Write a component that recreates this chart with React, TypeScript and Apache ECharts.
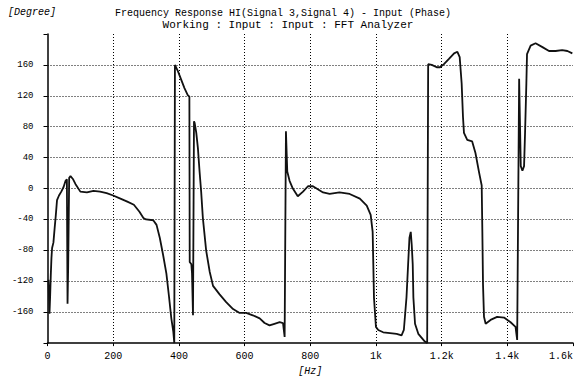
import React, { useEffect, useRef } from "react";
import * as echarts from "echarts";

const titleText = "Frequency Response HI(Signal 3,Signal 4) - Input (Phase)";
const subtitleText = "Working : Input : Input : FFT Analyzer";
const yUnit = "[Degree]";
const xUnit = "[Hz]";

const xTickValues = [0, 200, 400, 600, 800, 1000, 1200, 1400, 1600];
const xTickLabels = ["0", "200", "400", "600", "800", "1k", "1.2k", "1.4k", "1.6k"];

const freqHz = [
  3, 6, 8, 10, 12, 14, 18, 22, 25, 29, 35, 42, 49, 55, 59, 61, 63, 66, 70, 78,
  85, 100, 120, 140, 160, 180, 200, 222, 243, 263, 280, 292, 300, 322, 332, 342, 352, 362, 370, 377,
  383, 386, 388, 397, 407, 417, 427, 432, 433, 438, 440, 443, 446, 448, 453, 458, 463, 468, 473, 483,
  494, 504, 524, 544, 565, 585, 605, 625, 646, 661, 676, 691, 707, 717, 722, 726, 730, 737, 747, 762,
  778, 793, 808, 823, 839, 859, 889, 920, 951, 972, 984, 990, 992, 994, 1000, 1007, 1022, 1043, 1063, 1078,
  1085, 1093, 1098, 1102, 1106, 1109, 1112, 1114, 1119, 1129, 1149, 1156, 1159, 1170, 1185, 1195, 1207, 1223, 1238, 1248,
  1255, 1261, 1265, 1268, 1278, 1293, 1303, 1314, 1322, 1324, 1326, 1329, 1334, 1349, 1369, 1390, 1410, 1425, 1430, 1436,
  1441, 1446, 1451, 1454, 1458, 1460, 1471, 1486, 1507, 1527, 1547, 1567, 1583, 1598,
];

const phaseDeg = [
  -118, -162, -140, -112, -90, -77, -70, -50, -36, -15, -9, -4, 2, 10, 12, -149, -100, 14, 16, 12,
  6, -4, -5, -3, -4, -6, -9, -13, -17, -21, -30, -38, -40, -41, -47, -64, -86, -110, -140, -168,
  -185, -200, 160, 152, 141, 130, 121, 119, -95, -98, -110, -164, 87, 85, 72, 52, 22, -5, -38, -80,
  -108, -126, -137, -147, -156, -161, -161, -164, -168, -174, -177, -175, -173, -174, -192, 74, 22, 10, 0, -10,
  -4, 3, 3, -1, -5, -7, -5, -7, -13, -22, -34, -56, -98, -141, -179, -183, -186, -187, -188, -190,
  -183, -141, -98, -64, -56, -73, -98, -141, -175, -188, -198, -200, 161, 160, 157, 157, 161, 168, 175, 177,
  170, 136, 93, 72, 63, 61, 46, 21, 4, -56, -124, -166, -175, -170, -166, -167, -173, -179, -196, 142,
  29, 23, 29, 72, 136, 174, 185, 188, 183, 178, 178, 179, 178, 175,
];

export default function App() {
  const ref = useRef<HTMLDivElement>(null);

  useEffect(() => {
    if (!ref.current) return;
    const chart = echarts.init(ref.current, null, { renderer: "svg" });
    const data = freqHz.map((f, i) => [f, phaseDeg[i]]);
    const mono = "Liberation Mono";

    chart.setOption({
      animation: false,
      backgroundColor: "#ffffff",
      grid: { left: 47.5, right: 3, top: 34, bottom: 32, containLabel: false },
      graphic: [
        {
          type: "text",
          left: 8,
          top: 7,
          style: { text: yUnit, font: `italic 10px ${mono}`, fill: "#000" },
        },
        {
          type: "text",
          x: 283,
          y: 13,
          style: {
            text: titleText,
            font: `10px ${mono}`,
            fill: "#000",
            align: "center",
            verticalAlign: "middle",
          },
        },
        {
          type: "text",
          x: 288,
          y: 25,
          style: {
            text: subtitleText,
            font: `11px ${mono}`,
            fill: "#000",
            align: "center",
            verticalAlign: "middle",
          },
        },
      ],
      xAxis: {
        type: "value",
        min: 0,
        max: 1600,
        interval: 200,
        name: xUnit,
        nameLocation: "middle",
        nameGap: 19,
        nameTextStyle: { fontFamily: mono, fontStyle: "italic", fontSize: 10, color: "#000" },
        axisLine: { show: true, onZero: false, lineStyle: { color: "#000", width: 1.5 } },
        axisTick: { show: true, length: 3, lineStyle: { color: "#000" } },
        axisLabel: {
          margin: 8,
          fontFamily: mono,
          fontSize: 10,
          color: "#000",
          alignMaxLabel: "right",
          formatter: (v: number) => {
            const i = xTickValues.indexOf(v);
            return i >= 0 ? xTickLabels[i] : "";
          },
        },
        splitLine: {
          show: true,
          showMinLine: false,
          showMaxLine: false,
          lineStyle: { color: "#000", width: 1, type: [1, 2] },
        },
      },
      yAxis: {
        type: "value",
        min: -200,
        max: 200,
        interval: 40,
        axisLine: { show: true, onZero: false, lineStyle: { color: "#000", width: 1.5 } },
        axisTick: { show: true, length: 4, lineStyle: { color: "#000" } },
        axisLabel: {
          margin: 14,
          fontFamily: mono,
          fontSize: 9,
          color: "#000",
          formatter: (v: number) => (v === 200 || v === -200 ? "" : String(v)),
        },
        splitLine: {
          show: true,
          showMinLine: false,
          showMaxLine: false,
          lineStyle: { color: "#000", width: 1, type: [1, 2] },
        },
      },
      series: [
        {
          type: "line",
          data,
          symbol: "none",
          clip: true,
          lineStyle: { color: "#111", width: 1.8 },
        },
      ],
    });

    return () => chart.dispose();
  }, []);

  return <div ref={ref} style={{ width: 576, height: 381, position: "absolute", left: 0, top: 0 }} />;
}
